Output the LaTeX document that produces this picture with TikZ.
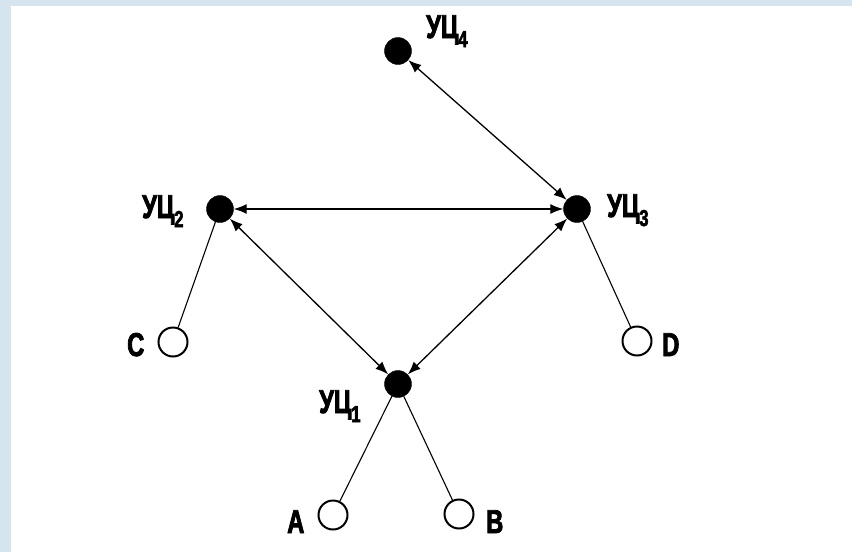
\documentclass[tikz,border=0pt]{standalone}
\usepackage{fontspec}
\newfontfamily\lblfont{Liberation Sans Bold}[FakeStretch=0.72,FakeBold=2.5]
\usetikzlibrary{arrows.meta}
\definecolor{paneledge}{RGB}{214,228,240}
\newcommand\ucsub[1]{\raisebox{-9pt}{\fontsize{23}{23}\selectfont #1}}
\begin{document}
\begin{tikzpicture}[x=1pt,y=-1pt,
  hub/.style={circle,fill=black,draw=black,minimum size=27pt,inner sep=0pt},
  term/.style={circle,draw=black,line width=2pt,fill=white,minimum size=29pt,inner sep=0pt},
  lbl/.style={inner sep=0pt,anchor=base west,font=\lblfont\fontsize{33}{33}\selectfont},
  link/.style={line width=1.3pt,{Latex[length=13pt,width=10pt]}-{Latex[length=13pt,width=10pt]}},
  tie/.style={line width=1.1pt}]
  % backdrop and white panel
  \useasboundingbox (0,0) rectangle (852,552);
  \fill[paneledge] (0,0) rectangle (852,552);
  \fill[white] (11,6) rectangle (852,552);

  % switching centres
  \node[hub] (u4) at (398,51) {};
  \node[hub] (u2) at (220,209) {};
  \node[hub] (u3) at (577,209) {};
  \node[hub] (u1) at (398,384) {};

  % subscribers
  \node[term] (c) at (173,342) {};
  \node[term] (d) at (637,341) {};
  \node[term] (a) at (333,515) {};
  \node[term] (b) at (459,514) {};

  % labels
  \node[lbl] (l4) at (426,38) {УЦ\ucsub{4}};
  \node[lbl] (l2) at (142,218) {УЦ\ucsub{2}};
  \node[lbl] (l3) at (607,217) {УЦ\ucsub{3}};
  \node[lbl] (l1) at (319,413) {УЦ\ucsub{1}};
  \node[lbl] (lc) at (127,356) {C};
  \node[lbl] (ld) at (662,356) {D};
  \node[lbl] (la) at (287,533) {A};
  \node[lbl] (lb) at (486,533) {B};

  % trunk links between centres
  \draw[link] (u4) -- (u3);
  \draw[link] (u2) -- (u3);
  \draw[link] (u2) -- (u1);
  \draw[link] (u3) -- (u1);

  % subscriber lines
  \draw[tie] (u2) -- (c);
  \draw[tie] (u3) -- (d);
  \draw[tie] (u1) -- (a);
  \draw[tie] (u1) -- (b);
\end{tikzpicture}
\end{document}
